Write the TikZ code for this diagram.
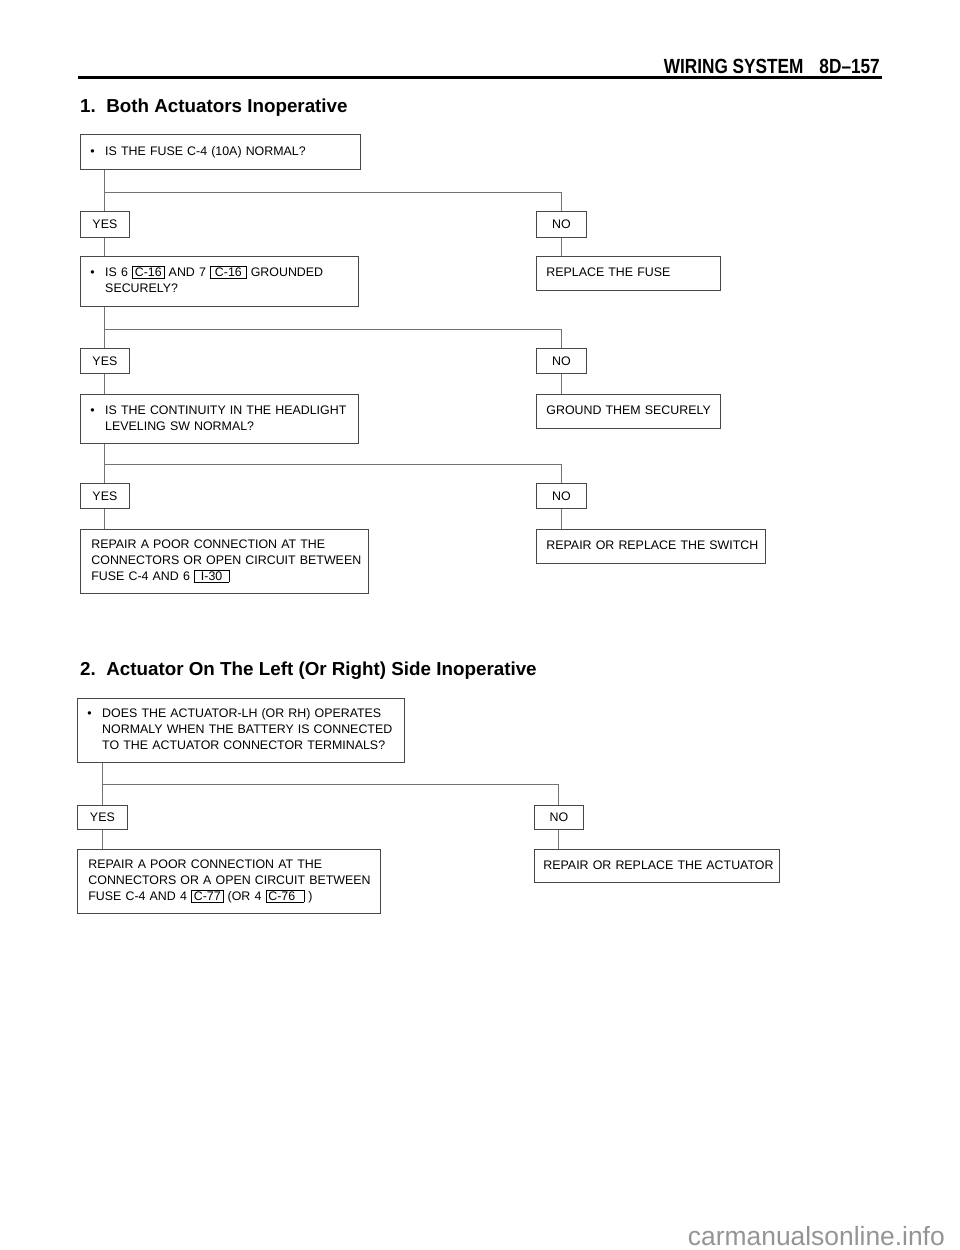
\documentclass[tikz,border=0pt]{standalone}
\usepackage{fontspec}
\setmainfont{Liberation Sans}
\newfontfamily\hdrfont[FakeStretch=0.84]{Liberation Sans}
\newcommand\cc[1]{{\setlength\fboxsep{1.4pt}\setlength\fboxrule{0.6pt}\fbox{\kern0.8pt#1\kern0.8pt}}}
\newcommand\bl[1]{\begin{tabular}{@{}l@{\hspace{10.5pt}}l@{}}#1\end{tabular}}
\newcommand\tl[1]{\begin{tabular}{@{}l@{}}#1\end{tabular}}
\begin{document}
\begin{tikzpicture}[x=1pt,y=-1pt,
  boxfont/.style={font=\fontsize{12.4}{16}\selectfont},
  box/.style={draw=black!72, line width=0.8pt, anchor=north west, inner ysep=0pt, align=left, boxfont},
  lab/.style={draw=black!72, line width=0.8pt, anchor=north west, inner sep=0pt, align=center, boxfont},
  wire/.style={draw=black!55, line width=1pt},
  ttl/.style={anchor=base west, inner sep=0pt, font=\bfseries\fontsize{18.8}{22}\selectfont}]
\useasboundingbox (0,0) rectangle (960,1250);
% header
\node[anchor=base east, inner sep=0pt, font=\hdrfont\bfseries\fontsize{20.5}{22}\selectfont] (hdr) at (880,73) {WIRING SYSTEM\hspace{16pt}8D–157};
\draw[line width=2.4pt] (78,77.5) -- (882,77.5);
\node[ttl] (t1) at (80,112) {1.\ \ Both Actuators Inoperative};
% section 1
\node[box, inner xsep=10pt, text width=260pt, minimum height=35pt] (q1) at (80,134) {\bl{\textbullet & IS THE FUSE C-4 (10A) NORMAL?}};
\node[lab, minimum width=49pt, minimum height=26pt] (yes1) at (80,211) {YES};
\node[lab, minimum width=50pt, minimum height=26pt] (no1) at (536,211) {NO};
\node[box, inner xsep=10pt, text width=258pt, minimum height=50pt] (q2) at (80,256) {\bl{\textbullet & IS 6 \cc{C-16} AND 7 \cc{\,C-16\,} GROUNDED\\ & SECURELY?}};
\node[box, inner xsep=10pt, text width=164pt, minimum height=34pt] (f1) at (536,256) {\tl{REPLACE THE FUSE}};
\node[lab, minimum width=49pt, minimum height=25pt] (yes2) at (80,348) {YES};
\node[lab, minimum width=50pt, minimum height=25pt] (no2) at (536,348) {NO};
\node[box, inner xsep=10pt, text width=258pt, minimum height=49pt] (q3) at (80,394) {\bl{\textbullet & IS THE CONTINUITY IN THE HEADLIGHT\\ & LEVELING SW NORMAL?}};
\node[box, inner xsep=10pt, text width=164pt, minimum height=34pt] (f2) at (536,394) {\tl{GROUND THEM SECURELY}};
\node[lab, minimum width=49pt, minimum height=25pt] (yes3) at (80,483) {YES};
\node[lab, minimum width=50pt, minimum height=25pt] (no3) at (536,483) {NO};
\node[box, inner xsep=11pt, text width=266pt, minimum height=64pt] (r1) at (80,529) {\tl{REPAIR A POOR CONNECTION AT THE\\CONNECTORS OR OPEN CIRCUIT BETWEEN\\FUSE C-4 AND 6 \cc{\ I-30\ }}};
\node[box, inner xsep=10pt, text width=209pt, minimum height=34pt] (f3) at (536,529) {\tl{REPAIR OR REPLACE THE SWITCH}};
% wires section 1
\draw[wire] (q1.south -| yes1.north) -- (yes1.north);
\coordinate (j1) at (0,192);
\draw[wire] (yes1.north |- j1) -| (no1.north);
\draw[wire] (yes1.south) -- (yes1.south |- q2.north);
\draw[wire] (no1.south) -- (no1.south |- f1.north);
\draw[wire] (q2.south -| yes2.north) -- (yes2.north);
\coordinate (j2) at (0,329);
\draw[wire] (yes2.north |- j2) -| (no2.north);
\draw[wire] (yes2.south) -- (yes2.south |- q3.north);
\draw[wire] (no2.south) -- (no2.south |- f2.north);
\draw[wire] (q3.south -| yes3.north) -- (yes3.north);
\coordinate (j3) at (0,464);
\draw[wire] (yes3.north |- j3) -| (no3.north);
\draw[wire] (yes3.south) -- (yes3.south |- r1.north);
\draw[wire] (no3.south) -- (no3.south |- f3.north);
% section 2
\node[ttl] (t2) at (80,675) {2.\ \ Actuator On The Left (Or Right) Side Inoperative};
\node[box, inner xsep=10pt, text width=307pt, minimum height=64pt] (q4) at (77,698) {\bl{\textbullet & DOES THE ACTUATOR-LH (OR RH) OPERATES\\ & NORMALY WHEN THE BATTERY IS CONNECTED\\ & TO THE ACTUATOR CONNECTOR TERMINALS?}};
\node[lab, minimum width=50pt, minimum height=24pt] (yes4) at (77,805) {YES};
\node[lab, minimum width=49pt, minimum height=24pt] (no4) at (534,805) {NO};
\node[box, inner xsep=11pt, text width=281pt, minimum height=64pt] (r2) at (77,849) {\tl{REPAIR A POOR CONNECTION AT THE\\CONNECTORS OR A OPEN CIRCUIT BETWEEN\\FUSE C-4 AND 4 \cc{C-77} (OR 4 \cc{C-76\ \,}\ )}};
\node[box, inner xsep=9pt, text width=227pt, minimum height=33pt] (f4) at (534,849) {\tl{REPAIR OR REPLACE THE ACTUATOR}};
\draw[wire] (q4.south -| yes4.north) -- (yes4.north);
\coordinate (j4) at (0,784);
\draw[wire] (yes4.north |- j4) -| (no4.north);
\draw[wire] (yes4.south) -- (yes4.south |- r2.north);
\draw[wire] (no4.south) -- (no4.south |- f4.north);
% watermark
\node[anchor=base east, inner sep=0pt, text=black!42, font=\fontsize{26.4}{30}\selectfont] (wm) at (945,1245) {carmanualsonline.info};
\end{tikzpicture}
\end{document}
